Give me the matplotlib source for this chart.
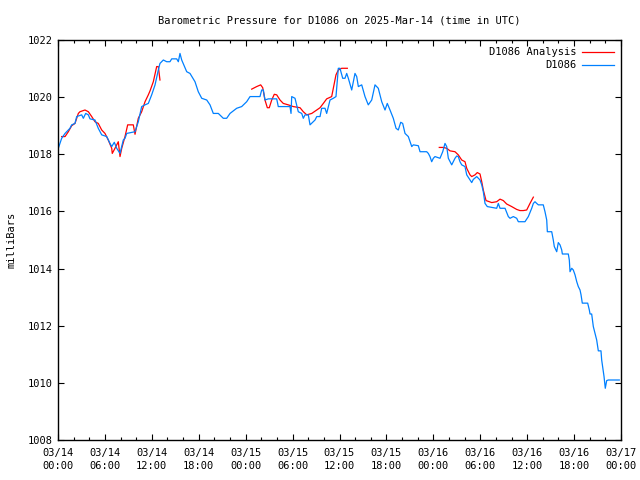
import numpy as np
import matplotlib
matplotlib.use('Agg')
import matplotlib.pyplot as plt
from matplotlib.ticker import MultipleLocator, FixedLocator

# hours since 2025-03-14 00:00 UTC, pressure in mb
obs_hours = [0.04, 0.47, 0.90, 1.53, 1.75, 2.17, 2.39, 3.03, 3.24, 3.54, 3.88, 4.09, 4.73, 5.15,
             5.59, 6.23, 6.65, 6.87, 7.20, 7.51, 7.93, 8.35, 8.57, 8.79, 9.85, 10.27, 10.70, 11.13,
             11.55, 11.98, 12.41, 12.83, 13.04, 13.47, 13.90, 14.32, 14.54, 15.18, 15.39, 15.60,
             15.82, 16.46, 16.88, 17.52, 17.94, 18.38, 19.02, 19.44, 19.86, 20.50, 21.14, 21.57,
             22.00, 22.85, 23.49, 24.13, 24.56, 25.83, 26.05, 26.26, 26.47, 26.90, 27.97, 28.17,
             29.67, 29.80, 29.89, 30.31, 30.73, 31.17, 31.37, 31.59, 32.01, 32.23, 32.87, 33.09,
             33.51, 33.72, 34.15, 34.36, 34.79, 35.21, 35.55, 35.85, 36.06, 36.41, 36.70, 36.92,
             37.13, 37.56, 37.98, 38.20, 38.41, 38.84, 39.26, 39.68, 40.12, 40.54, 40.96, 41.40,
             41.82, 42.11, 42.46, 42.88, 43.23, 43.52, 43.83, 44.08, 44.38, 44.80, 45.24, 45.44,
             46.08, 46.30, 47.15, 47.36, 47.57, 47.79, 48.00, 48.21, 48.85, 49.20, 49.49, 49.71,
             49.92, 50.35, 50.77, 50.99, 51.19, 51.41, 51.63, 52.05, 52.27, 52.69, 52.91, 53.11,
             53.55, 53.97, 54.19, 54.39, 54.61, 54.90, 56.10, 56.31, 56.53, 57.17, 57.59, 57.81,
             58.23, 58.66, 58.87, 59.72, 60.15, 60.58, 60.79, 61.00, 61.22, 61.43, 62.06, 62.28,
             62.50, 62.58, 63.14, 63.34, 63.47, 63.78, 63.98, 64.20, 64.42, 64.50, 65.26, 65.39,
             65.48, 65.70, 65.90, 66.12, 66.34, 66.54, 66.76, 66.89, 67.05, 67.74, 67.95, 68.04,
             68.25, 68.46, 68.68, 68.89, 69.10, 69.44, 69.53, 69.74, 69.83, 69.99, 70.17, 70.38,
             71.78]
obs_mb = [1018.21, 1018.56, 1018.73, 1018.91, 1019.03, 1019.08, 1019.32, 1019.38, 1019.26, 1019.43,
          1019.38, 1019.24, 1019.20, 1018.91, 1018.68, 1018.62, 1018.38, 1018.27, 1018.42, 1018.21,
          1018.03, 1018.50, 1018.56, 1018.73, 1018.79, 1019.14, 1019.67, 1019.73, 1019.78, 1020.08,
          1020.43, 1020.95, 1021.18, 1021.30, 1021.24, 1021.24, 1021.34, 1021.34, 1021.24, 1021.53,
          1021.30, 1020.89, 1020.83, 1020.54, 1020.19, 1019.96, 1019.90, 1019.73, 1019.43, 1019.43,
          1019.26, 1019.26, 1019.43, 1019.61, 1019.67, 1019.84, 1020.02, 1020.02, 1020.25, 1020.25,
          1019.90, 1019.94, 1019.94, 1019.67, 1019.67, 1019.43, 1020.02, 1019.96, 1019.49, 1019.43,
          1019.26, 1019.38, 1019.38, 1019.03, 1019.20, 1019.32, 1019.32, 1019.61, 1019.61, 1019.43,
          1019.90, 1019.96, 1020.02, 1021.01, 1021.01, 1020.66, 1020.66, 1020.83, 1020.66, 1020.25,
          1020.83, 1020.72, 1020.37, 1020.43, 1020.02, 1019.73, 1019.90, 1020.43, 1020.31, 1019.84,
          1019.55, 1019.78, 1019.55, 1019.26, 1018.91, 1018.85, 1019.12, 1019.08, 1018.73, 1018.62,
          1018.27, 1018.33, 1018.30, 1018.09, 1018.09, 1018.03, 1017.92, 1017.74, 1017.86, 1017.92,
          1017.86, 1018.09, 1018.38, 1018.27, 1017.86, 1017.63, 1017.86, 1017.94, 1017.92, 1017.74,
          1017.63, 1017.57, 1017.28, 1017.10, 1017.01, 1017.12, 1017.22, 1017.10, 1016.93, 1016.69,
          1016.28, 1016.17, 1016.11, 1016.28, 1016.11, 1016.11, 1015.82, 1015.76, 1015.82, 1015.76,
          1015.64, 1015.64, 1015.82, 1016.11, 1016.28, 1016.34, 1016.28, 1016.23, 1016.23, 1015.99,
          1015.70, 1015.29, 1015.29, 1015.00, 1014.77, 1014.59, 1014.91, 1014.83, 1014.65, 1014.51,
          1014.51, 1014.30, 1013.89, 1014.01, 1013.95, 1013.78, 1013.54, 1013.37, 1013.25, 1013.08,
          1012.79, 1012.79, 1012.55, 1012.41, 1012.41, 1011.97, 1011.73, 1011.50, 1011.12, 1011.12,
          1010.80, 1010.39, 1010.22, 1009.81, 1010.08, 1010.10, 1010.10]

# analysis, three separate runs
ana1_hours = [0.47, 0.90, 1.32, 1.75, 2.17, 2.60, 2.81, 3.45, 3.88, 4.31, 4.73, 5.15, 5.59, 6.01,
              6.43, 6.87, 6.94, 7.29, 7.71, 7.93, 8.15, 8.57, 8.91, 9.63, 9.85, 10.27, 10.70,
              11.13, 11.55, 11.77, 12.19, 12.62, 12.83, 13.04]
ana1_mb = [1018.62, 1018.62, 1018.79, 1019.00, 1019.08, 1019.43, 1019.49, 1019.55, 1019.49, 1019.32,
           1019.14, 1019.08, 1018.85, 1018.73, 1018.50, 1018.21, 1018.03, 1018.21, 1018.44, 1017.92,
           1018.21, 1018.62, 1019.03, 1019.03, 1018.70, 1019.26, 1019.49, 1019.84, 1020.08, 1020.22,
           1020.54, 1021.07, 1021.07, 1020.60]
ana2_hours = [24.77, 25.41, 25.92, 26.18, 26.47, 26.77, 27.02, 27.33, 27.66, 27.97, 28.39, 28.81,
              29.45, 30.09, 30.95, 31.37, 31.81, 32.45, 33.09, 33.51, 33.93, 34.36, 35.00, 35.21,
              35.55, 35.85, 36.28, 37.00]
ana2_mb = [1020.28, 1020.37, 1020.43, 1020.33, 1019.90, 1019.63, 1019.63, 1019.90, 1020.10, 1020.08,
           1019.90, 1019.78, 1019.73, 1019.67, 1019.63, 1019.49, 1019.38, 1019.43, 1019.55, 1019.63,
           1019.78, 1019.94, 1020.02, 1020.31, 1020.78, 1020.95, 1021.01, 1021.01]
ana3_hours = [48.76, 49.28, 49.71, 50.13, 50.77, 51.19, 51.63, 52.05, 52.27, 52.69, 52.91, 53.33,
              53.62, 53.97, 54.19, 54.39, 54.74, 55.47, 56.10, 56.53, 56.95, 57.38, 58.02, 58.66,
              59.08, 59.50, 59.94, 60.36, 60.79]
ana3_mb = [1018.24, 1018.24, 1018.21, 1018.12, 1018.09, 1017.98, 1017.80, 1017.74, 1017.51, 1017.28,
           1017.22, 1017.28, 1017.36, 1017.31, 1017.04, 1016.75, 1016.38, 1016.31, 1016.34, 1016.43,
           1016.38, 1016.26, 1016.17, 1016.07, 1016.03, 1016.03, 1016.05, 1016.28, 1016.50]

tick_labels = ['03/14\n00:00', '03/14\n06:00', '03/14\n12:00', '03/14\n18:00',
               '03/15\n00:00', '03/15\n06:00', '03/15\n12:00', '03/15\n18:00',
               '03/16\n00:00', '03/16\n06:00', '03/16\n12:00', '03/16\n18:00',
               '03/17\n00:00']

plt.rcParams['font.family'] = ['DejaVu Sans Mono']
plt.rcParams['font.size'] = 7.5

fig = plt.figure(figsize=(6.4, 4.8), dpi=100)
ax = fig.add_axes([58 / 640, 40 / 480, 563 / 640, 400 / 480])

# join analysis runs with gaps
ana_hours = ana1_hours + [np.nan] + ana2_hours + [np.nan] + ana3_hours
ana_mb = ana1_mb + [np.nan] + ana2_mb + [np.nan] + ana3_mb

ax.plot(ana_hours, ana_mb, color='#ff0000', lw=0.9, label='D1086 Analysis')
ax.plot(obs_hours, obs_mb, color='#0080ff', lw=0.9, label='D1086')

ax.set_xlim(0, 72)
ax.set_ylim(1008, 1022)
ax.xaxis.set_major_locator(FixedLocator(np.arange(0, 73, 6)))
ax.set_xticklabels(tick_labels, linespacing=1.35)
ax.xaxis.set_minor_locator(MultipleLocator(2))
ax.yaxis.set_major_locator(MultipleLocator(2))
ax.tick_params(which='both', direction='in', top=True, right=True, width=0.8)
ax.tick_params(which='major', length=4)
ax.tick_params(axis='x', which='major', pad=6)
ax.tick_params(axis='y', which='major', pad=4)
ax.tick_params(which='minor', length=2)
for s in ax.spines.values():
    s.set_linewidth(1.0)

ax.set_title('Barometric Pressure for D1086 on 2025-Mar-14 (time in UTC)', fontsize=7.5, pad=12)
ax.set_ylabel('milliBars', labelpad=8)
ax.legend(loc='upper right', frameon=False, markerfirst=False, handlelength=3.0,
          borderaxespad=0.3, labelspacing=0.3, handletextpad=0.6)

fig.savefig('out.png', dpi=100)
